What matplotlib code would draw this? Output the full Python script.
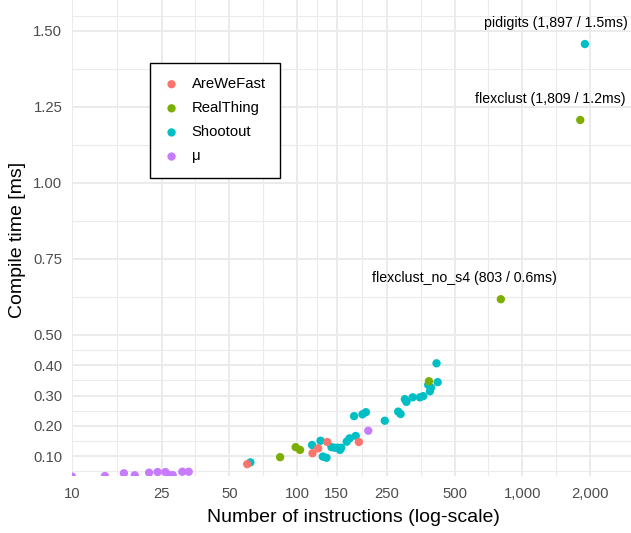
import numpy as np
import matplotlib
matplotlib.use("Agg")
import matplotlib.pyplot as plt
from matplotlib.ticker import FixedLocator, FixedFormatter

plt.rcParams['font.family'] = ['Liberation Sans', 'DejaVu Sans']

# ---------------- data ----------------
suites = ["AreWeFast", "RealThing", "Shootout", "μ"]
colors = ["#F8766D", "#7CAE00", "#00BFC4", "#C77CFF"]

shootout_instr = [62, 116.5, 127, 130, 135, 142, 147, 152, 157, 155, 166, 171, 182,
                  179, 195, 202, 245, 281, 288, 301, 306, 326, 351, 363, 382, 393,
                  389, 421, 416, 1897]
shootout_ms = [0.080, 0.137, 0.151, 0.099, 0.095, 0.130, 0.128, 0.128, 0.128, 0.121,
               0.148, 0.159, 0.167, 0.232, 0.238, 0.245, 0.217, 0.247, 0.239, 0.288,
               0.279, 0.294, 0.294, 0.298, 0.335, 0.326, 0.314, 0.344, 0.406, 1.457]

arewefast_instr = [60, 117, 124, 136, 188]
arewefast_ms = [0.074, 0.110, 0.126, 0.147, 0.147]

realthing_instr = [84, 98.5, 103, 385, 803, 1809]
realthing_ms = [0.097, 0.130, 0.121, 0.347, 0.617, 1.207]

mu_instr = [10, 14, 17, 19, 22, 24, 26, 26.9, 28, 30.9, 33, 207]
mu_ms = [0.033, 0.035, 0.044, 0.0375, 0.046, 0.048, 0.048, 0.038, 0.038, 0.049, 0.049, 0.184]

label_names = ["pidigits", "flexclust", "flexclust_no_s4"]
label_instr = [1897, 1809, 803]
label_ms = [1.457, 1.207, 0.617]

x_ticks = [10, 25, 50, 100, 150, 250, 500, 1000, 2000]
y_ticks = [0.10, 0.20, 0.30, 0.40, 0.50, 0.75, 1.00, 1.25, 1.50]

series = {
    "AreWeFast": (arewefast_instr, arewefast_ms),
    "RealThing": (realthing_instr, realthing_ms),
    "Shootout": (shootout_instr, shootout_ms),
    "μ": (mu_instr, mu_ms),
}

# ---------------- figure ----------------
W, H = 631, 533
fig = plt.figure(figsize=(W / 100, H / 100), dpi=100)
ax = fig.add_axes([72 / W, 57 / H, (W - 72) / W, (H - 57) / H])
ax.set_facecolor("white")

ax.set_xscale("log")
ax.set_xlim(10, 3040)
ax.set_ylim(0.035, 1.602)

# grid (ggplot-like major + minor)
def minor_between(b, lo, hi, log=False):
    b = np.array(b, dtype=float)
    if log:
        b = np.log10(b)
        lo, hi = np.log10(lo), np.log10(hi)
    bd = b[1] - b[0]
    ext = list(b)
    if lo < b[0]:
        ext = [b[0] - bd] + ext
    if hi > b[-1]:
        ext = ext + [b[-1] + bd]
    ext = np.array(ext)
    mids = (ext[:-1] + ext[1:]) / 2
    mids = mids[(mids > lo) & (mids < hi)]
    return 10 ** mids if log else mids

xmin = minor_between(x_ticks, *ax.get_xlim(), log=True)
ymin = minor_between(y_ticks, *ax.get_ylim())

grid_col = "#EBEBEB"
for v in xmin:
    ax.axvline(v, color=grid_col, lw=0.8, zorder=0)
for v in ymin:
    ax.axhline(v, color=grid_col, lw=0.8, zorder=0)
for v in x_ticks:
    ax.axvline(v, color=grid_col, lw=1.4, zorder=0)
for v in y_ticks:
    ax.axhline(v, color=grid_col, lw=1.4, zorder=0)

ax.xaxis.set_major_locator(FixedLocator(x_ticks))
ax.xaxis.set_major_formatter(FixedFormatter([f"{t:,}" for t in x_ticks]))
ax.xaxis.set_minor_locator(FixedLocator([]))
ax.yaxis.set_major_locator(FixedLocator(y_ticks))
ax.yaxis.set_major_formatter(FixedFormatter([f"{t:.2f}" for t in y_ticks]))
ax.yaxis.set_minor_locator(FixedLocator([]))

ax.tick_params(axis="both", length=0, labelsize=10.7, labelcolor="#4D4D4D")
ax.tick_params(axis="x", pad=8)
ax.tick_params(axis="y", pad=7)
for s in ax.spines.values():
    s.set_visible(False)

# points (Shootout drawn first, others on top)
order = ["Shootout", "AreWeFast", "RealThing", "μ"]
handles = {}
for name in order:
    xs, ys = series[name]
    c = colors[suites.index(name)]
    handles[name] = ax.scatter(xs, ys, s=36, color=c, edgecolors="none", zorder=3,
                               label=name)

# labels
texts = []
for nm, xi, yi in zip(label_names, label_instr, label_ms):
    t = ax.annotate(f"{nm} ({xi:,} / {yi:.1f}ms)", (xi, yi), xytext=(0, 21),
                    textcoords="offset pixels", ha="center", va="center",
                    fontsize=10.2, color="black", zorder=4)
    texts.append(t)
fig.canvas.draw()
r = fig.canvas.get_renderer()
for t in texts:
    w = t.get_window_extent(r).width
    t.set_position(((0.5 - 0.7) * w, 21))

# axis titles
ax.set_xlabel("Number of instructions (log-scale)", fontsize=14, color="black")
ax.set_ylabel("Compile time [ms]", fontsize=14, color="black")
ax.xaxis.label.set_va("center")
ax.yaxis.label.set_va("center")
ax.xaxis.set_label_coords((353 - 72) / (W - 72), -(41) / (H - 57))
ax.yaxis.set_label_coords((18 - 72) / (W - 72), 0.495)

# legend
leg = fig.legend([handles[n] for n in suites], suites, loc="upper left",
                 bbox_to_anchor=(150 / W, 1 - 63 / H), bbox_transform=fig.transFigure,
                 fontsize=10.7, frameon=True, fancybox=False, framealpha=1,
                 edgecolor="black", borderpad=0.95, labelspacing=0.68,
                 handlelength=1.0, handletextpad=0.85, borderaxespad=0,
                 markerscale=1.0)
leg.get_frame().set_linewidth(1.0)

fig.savefig("out.png", dpi=100, facecolor="white")
